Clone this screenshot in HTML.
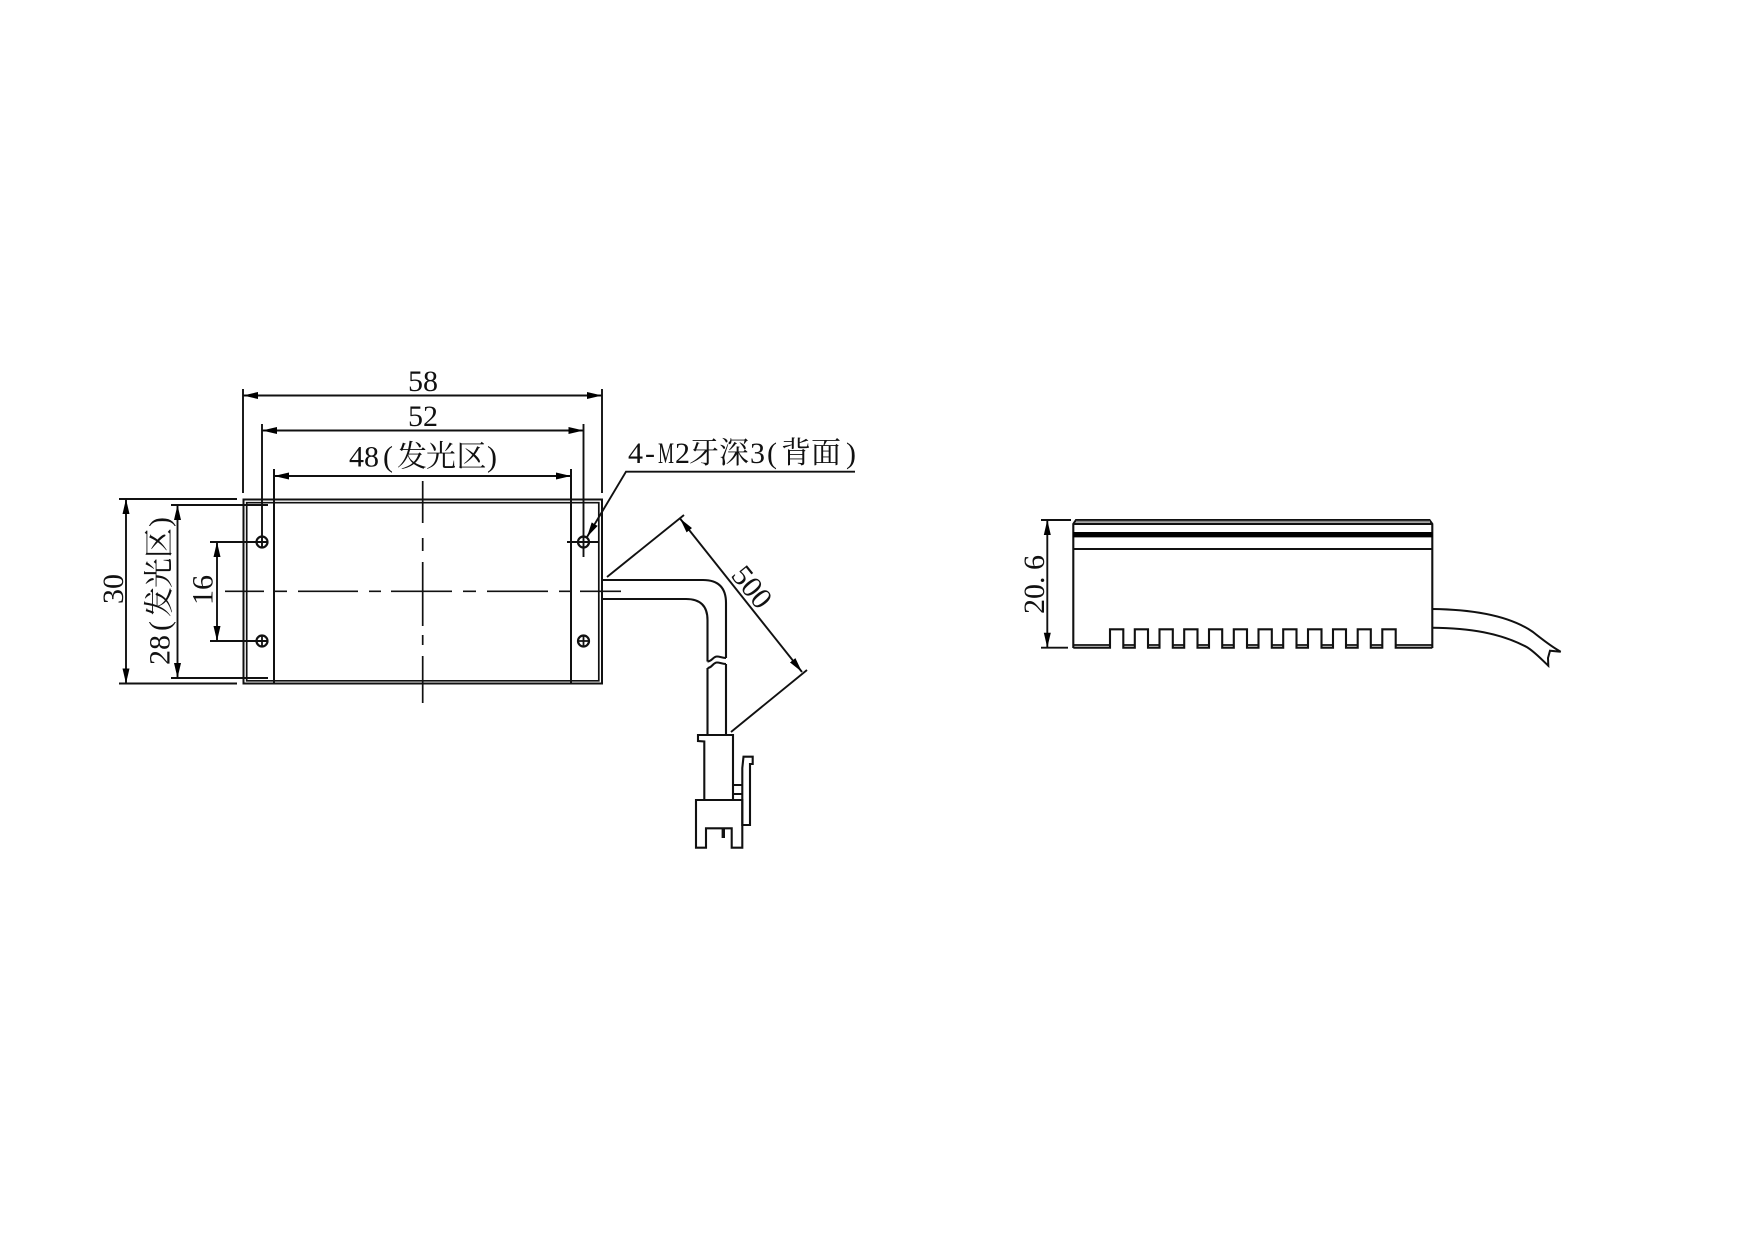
<!DOCTYPE html>
<html><head><meta charset="utf-8"><style>
html,body{margin:0;padding:0;background:#fff}
svg{display:block}
text{font-family:"Liberation Serif","Noto Serif CJK SC",serif;font-size:30px;fill:#111}
</style></head><body>
<svg width="1754" height="1240" viewBox="0 0 1754 1240" xmlns="http://www.w3.org/2000/svg">
<defs>
<marker id="a" markerUnits="userSpaceOnUse" markerWidth="17" markerHeight="9" refX="15" refY="4.5" orient="auto-start-reverse"><path d="M0 1L15 4.5L0 8Z" fill="#000"/></marker>
</defs>
<g fill="none" stroke="#111" stroke-width="1.9">
<!-- main plate -->
<rect x="243.5" y="499.5" width="358.5" height="184" stroke-width="2"/>
<path d="M246.7 502.7H598.8V680.8H246.7Z" stroke-width="1.7"/>
<path d="M274 469V683M571 469V683" stroke-width="2"/>
<!-- extensions -->
<path d="M243 389V493M602 389V493M262 424V547M583.5 424V557"/>
<path d="M119 499H237M119 683.5H237M171 505H268M171 678H268M210 542H267M210 641H267M567 542H598"/>
<!-- dimensions -->
<path d="M243 395.5H602" marker-start="url(#a)" marker-end="url(#a)"/>
<path d="M262 430.5H583.5" marker-start="url(#a)" marker-end="url(#a)"/>
<path d="M274 476H571" marker-start="url(#a)" marker-end="url(#a)"/>
<path d="M126 499V683.5" marker-start="url(#a)" marker-end="url(#a)"/>
<path d="M177.5 505V678" marker-start="url(#a)" marker-end="url(#a)"/>
<path d="M217 542V641" marker-start="url(#a)" marker-end="url(#a)"/>
<path d="M680 518.5L802 672" marker-start="url(#a)" marker-end="url(#a)"/>
<path d="M607 577L684 515M731 732L807 670"/>
<!-- leader -->
<path d="M855 471.7H626L587 537" marker-end="url(#a)"/>
<!-- holes -->
<g stroke-width="2.2">
<circle cx="262" cy="542" r="5.5"/><circle cx="262" cy="641" r="5.5"/><circle cx="583.5" cy="542" r="5.5"/><circle cx="583.5" cy="641" r="5.5"/>
<path d="M262 635V647M577 641H590M583.5 635V647" stroke-width="1.8"/>
</g>
<!-- centre lines -->
<path stroke-width="1.7" d="M225 591.3H264M275 591.3H287M298 591.3H358M369 591.3H381M391 591.3H452M463 591.3H476M487 591.3H548M559 591.3H570M580 591.3H621"/>
<path stroke-width="1.7" d="M422.7 481V523M422.7 538V551M422.7 562V626M422.7 635V645M422.7 656V703"/>
<!-- cable -->
<g stroke-width="2.1">
<path d="M602 580H703Q726 580 726 603V658"/>
<path d="M602 599H686Q707.5 599 707.5 620V661.5"/>
<path d="M707.5 661.5C712 661.5 713 656.5 717 656.5C720 656.5 722 658 726 658"/>
<path d="M707.5 668C712 668 713 662.5 717 662.5C720 662.5 722 664 726 664"/>
<path d="M707.5 668V735M726 664V735"/>
<!-- connector -->
<path d="M704.3 800V741.5L698 741V735H733V800"/>
<path d="M696 800H742.3V847.7H731.7V828.3H706V847.7H696Z"/>
<path d="M723.3 828V838" stroke-width="3.4"/>
<path d="M733 785H742.3M733 794H742.3"/>
<path d="M742.3 800V825H750V764H752.7V756.7H743.5L742.3 768V800"/>
</g>
<!-- side view -->
<g stroke-width="2.1">
<path d="M1073.3 648V524L1076 520H1429.5L1432.3 524V648"/>
<path d="M1074 524H1432"/>
<path d="M1076 521.8H1430" stroke="#888" stroke-width="2"/>
<path d="M1073 534.7H1432.5" stroke="#000" stroke-width="5.4"/>
<path d="M1073 549H1432.5"/>
<path d="M1073.3 647.7H1110V629.3H1123.3V647.7H1134.8V629.3H1148V647.7H1159.5V629.3H1172.8V647.7H1184.2V629.3H1197.5V647.7H1209V629.3H1222.2V647.7H1233.8V629.3H1247V647.7H1258.5V629.3H1271.8V647.7H1283.2V629.3H1296.5V647.7H1308V629.3H1321.5V647.7H1333V629.3H1346V647.7H1357.7V629.3H1370.8V647.7H1382.3V629.3H1395.7V647.7H1432.3"/>
<path stroke-width="1.8" d="M1073.3 645H1110M1123.3 645H1134.8M1148 645H1159.5M1172.8 645H1184.2M1197.5 645H1209M1222.2 645H1233.8M1247 645H1258.5M1271.8 645H1283.2M1296.5 645H1308M1321.5 645H1333M1346 645H1357.7M1370.8 645H1382.3M1395.7 645H1432.3"/>
<path stroke-width="2" d="M1432 609C1475 609.5 1510 616 1533 632C1543 640 1552 647 1560.7 651.7L1550 650.7L1548 658L1548.3 665.7C1542 660 1535 652 1526.7 647C1500 633 1470 628 1432 627.7"/>
</g>
<path d="M1041 520H1071M1041 647.7H1068"/>
<path d="M1047.3 520V647.7" marker-start="url(#a)" marker-end="url(#a)"/>
</g>
<!-- labels -->
<text x="408" y="391">58</text>
<text x="408" y="426">52</text>
<text y="466.7" x="349 364 383 397 426 456.5 487">48(发光区)</text>
<text y="463" x="628 645 689 719 750 767 781 811 846">4-牙深3(背面)</text>
<text transform="translate(658 463) scale(.6 1)">M</text>
<text x="675" y="463">2</text>
<text transform="translate(123 604) rotate(-90)">30</text>
<text transform="translate(169.5 665) rotate(-90)" x="0 15 34 48 77 107 138">28(发光区)</text>
<text transform="translate(212.5 605) rotate(-90)">16</text>
<text transform="translate(1044 614) rotate(-90)" x="0 15 30 44">20.6</text>
<text transform="translate(752 587) rotate(51)" text-anchor="middle" dy="10">500</text>
</svg>
</body></html>
